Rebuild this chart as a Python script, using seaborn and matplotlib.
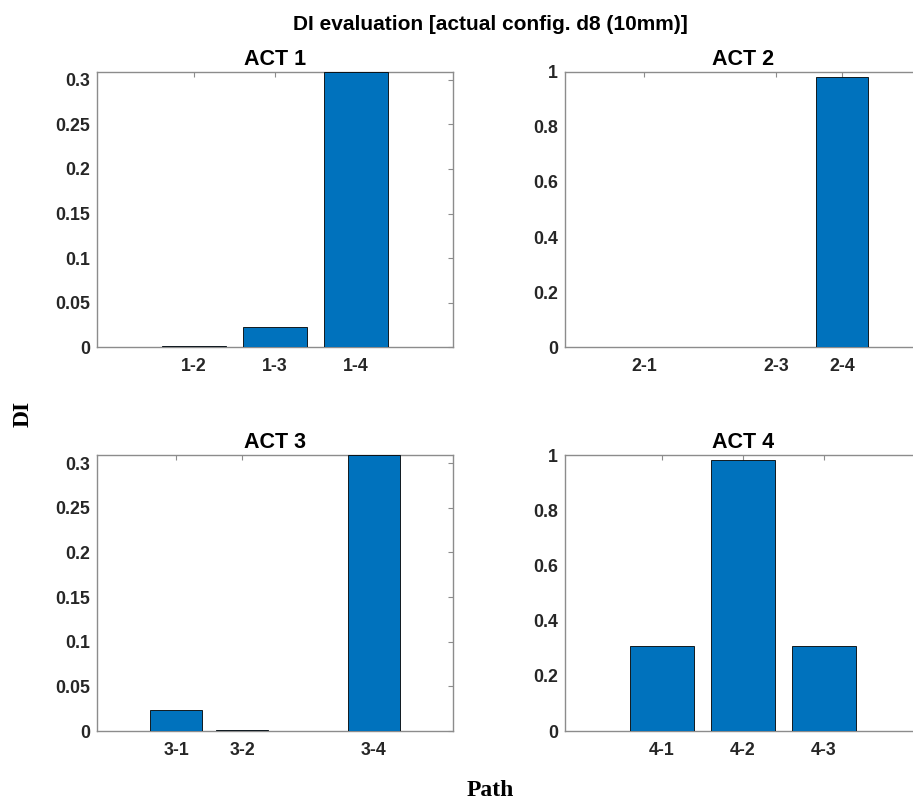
import matplotlib
matplotlib.use("Agg")
import matplotlib.pyplot as plt
import seaborn as sns
import pandas as pd

# ---- data ----
act_titles = ["ACT 1", "ACT 2", "ACT 3", "ACT 4"]
act1_paths = ["1-2", "1-3", "1-4"]
act1_pos = [2, 3, 4]
act1_di = [0.0011, 0.0224, 0.309]
act2_paths = ["2-1", "2-3", "2-4"]
act2_pos = [1, 3, 4]
act2_di = [0.0, 0.0, 0.979]
act3_paths = ["3-1", "3-2", "3-4"]
act3_pos = [1, 2, 4]
act3_di = [0.0232, 0.0008, 0.309]
act4_paths = ["4-1", "4-2", "4-3"]
act4_pos = [1, 2, 3]
act4_di = [0.309, 0.981, 0.309]
ylims = [0.309, 1.0, 0.309, 1.0]
yticks_small = [0, 0.05, 0.1, 0.15, 0.2, 0.25, 0.3]
yticks_big = [0, 0.2, 0.4, 0.6, 0.8, 1]

panels = [
    (act1_paths, act1_pos, act1_di),
    (act2_paths, act2_pos, act2_di),
    (act3_paths, act3_pos, act3_di),
    (act4_paths, act4_pos, act4_di),
]

sns.set_theme(style="white")
plt.rcParams["font.family"] = ["Liberation Sans", "DejaVu Sans"]

W, H = 913, 800
fig = plt.figure(figsize=(W / 100, H / 100), dpi=100)

axes_px = [
    (97, 71.7, 356, 275.6),
    (565, 71.7, 356, 275.6),
    (97, 455.0, 356, 276.0),
    (565, 455.0, 356, 276.0),
]

bar_color = "#0072BD"
spine_color = "#8c8c8c"
text_color = "#262626"

for i, ((paths, pos, vals), (l, t, w, h)) in enumerate(zip(panels, axes_px)):
    ax = fig.add_axes([l / W, 1 - (t + h) / H, w / W, h / H])
    df = pd.DataFrame({"pos": pos, "DI": vals, "path": paths})
    sns.barplot(data=df, x="pos", y="DI", native_scale=True, width=0.8,
                color=bar_color, saturation=1, edgecolor="black",
                linewidth=0.6, ax=ax)
    for p in ax.patches:
        p.set_zorder(3 if p.get_height() > 0 else 1)
    ax.set_xlim(min(pos) - 1.2, max(pos) + 1.2)
    ax.set_ylim(0, ylims[i])
    ticks = yticks_small if ylims[i] < 0.5 else yticks_big
    ax.set_xticks(pos)
    ax.set_xticklabels(paths)
    ax.set_yticks(ticks)
    ax.set_yticklabels([f"{v:g}" for v in ticks])
    ax.set_xlabel("")
    ax.set_ylabel("")
    for s in ax.spines.values():
        s.set_visible(True)
        s.set_color(spine_color)
        s.set_linewidth(1.0)
    ax.tick_params(axis="both", direction="in", length=3.5, width=0.8,
                   color=spine_color, top=True, right=True,
                   labelsize=12.8, labelcolor=text_color)
    ax.tick_params(axis="x", pad=8)
    ax.tick_params(axis="y", pad=5)
    for lab in ax.get_xticklabels() + ax.get_yticklabels():
        lab.set_fontweight("bold")
    ax.set_title(act_titles[i], fontsize=15.5, fontweight="bold",
                 color="black", pad=5)

fig.text(490 / W, 1 - 25 / H, "DI evaluation [actual config. d8 (10mm)]",
         ha="center", va="center", fontsize=15, fontweight="bold",
         color="black")
fig.text(23 / W, 1 - 414 / H, "DI", rotation=90, ha="center", va="center",
         fontsize=17, fontweight="bold", color="black",
         family=["Liberation Serif", "DejaVu Serif"])
fig.text(490 / W, 1 - 796 / H, "Path", ha="center", va="baseline",
         fontsize=17, fontweight="bold", color="black",
         family=["Liberation Serif", "DejaVu Serif"])

fig.savefig("out.png", dpi=100)
